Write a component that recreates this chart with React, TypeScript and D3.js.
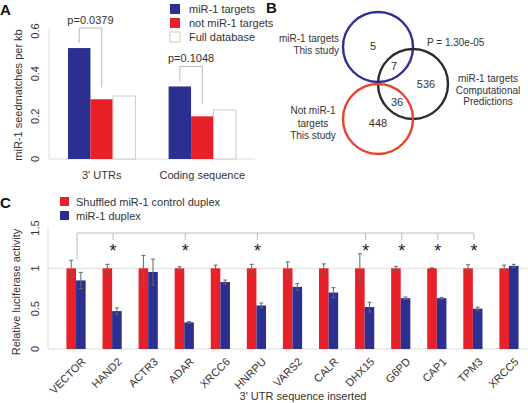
import React from "react";
import * as d3 from "d3";

// Panel A data
const groupsA = ["3' UTRs", "Coding sequence"];
const seriesA = ["miR-1 targets", "not miR-1 targets", "Full database"];
const valuesA = [
  [0.52, 0.28, 0.295],
  [0.34, 0.2, 0.23],
];
const pLabelsA = ["p=0.0379", "p=0.1048"];
const ticksA = [0, 0.2, 0.4, 0.6];

// Panel B data
const vennCounts = { onlyStudy: 5, studyPred: 7, onlyPred: 536, notPred: 36, onlyNot: 448 };
const vennP = "P = 1.30e-05";

// Panel C data
const genes = ["VECTOR", "HAND2", "ACTR3", "ADAR", "XRCC6", "HNRPU", "VARS2", "CALR", "DHX15", "G6PD", "CAP1", "TPM3", "XRCC5"];
const controlVals = [1, 1, 1, 1, 1, 1, 1, 1, 1, 1, 1, 1, 1];
const controlErr = [0.1, 0.05, 0.16, 0.02, 0.04, 0.05, 0.08, 0.055, 0.18, 0.025, 0.005, 0.045, 0.04];
const duplexVals = [0.85, 0.47, 0.955, 0.33, 0.83, 0.54, 0.77, 0.7, 0.52, 0.63, 0.63, 0.5, 1.03];
const duplexErr = [0.1, 0.04, 0.16, 0.01, 0.025, 0.03, 0.04, 0.06, 0.06, 0.015, 0.01, 0.02, 0.02];
const significant = ["HAND2", "ADAR", "HNRPU", "DHX15", "G6PD", "CAP1", "TPM3"];
const ticksC = [0, 0.5, 1, 1.5];
const seriesC = ["Shuffled miR-1 control duplex", "miR-1 duplex"];

const BLUE = "#2B2F8F";
const RED = "#E8202A";
const FONT = "Liberation Sans, Arial, sans-serif";
const TXT = "#333";

export default function App() {
  // Panel A scales
  const yA = d3.scaleLinear().domain([0, 0.6]).range([159, 31]);
  const xA = d3.scaleBand<string>().domain(groupsA).range([68, 236]).paddingInner(0.33).paddingOuter(0);
  const xAin = d3.scaleBand<string>().domain(seriesA).range([0, xA.bandwidth()]);
  const colA = [BLUE, RED, "#fff"];

  // Panel C scales
  const yC = d3.scaleLinear().domain([0, 1.5]).range([349, 228]);
  const xC = d3.scaleBand<string>().domain(genes).range([58, 527]);
  const barW = 9.6;
  const bracketY = 233;

  return (
    <svg width={528} height={403} style={{ position: "absolute", left: 0, top: 0, background: "#fff" }} fontFamily={FONT}>
      {/* Panel letters */}
      <text x={0} y={15} fontSize={15} fontWeight="bold" fill="#111">A</text>
      <text x={266} y={13} fontSize={15} fontWeight="bold" fill="#111">B</text>
      <text x={0} y={208} fontSize={15} fontWeight="bold" fill="#111">C</text>

      {/* ---------- Panel A ---------- */}
      <line x1={49} x2={49} y1={28} y2={159} stroke="#ddd" />
      <line x1={49} x2={255} y1={159} y2={159} stroke="#ddd" />
      {ticksA.map((t) => (
        <text key={t} transform={`translate(39,${yA(t)}) rotate(-90)`} textAnchor="middle" fontSize={11} fill={TXT}>
          {t === 0 ? "0" : t.toFixed(1)}
        </text>
      ))}
      <text transform={`translate(22,95) rotate(-90)`} textAnchor="middle" fontSize={11} fill={TXT}>
        miR-1 seedmatches per kb
      </text>
      {groupsA.map((g, gi) => (
        <g key={g}>
          {seriesA.map((s, si) => (
            <rect
              key={s}
              x={(xA(g) as number) + (xAin(s) as number)}
              y={yA(valuesA[gi][si])}
              width={xAin.bandwidth()}
              height={yA(0) - yA(valuesA[gi][si])}
              fill={colA[si]}
              stroke={si === 2 ? "#ccc" : "none"}
            />
          ))}
          <text x={(xA(g) as number) + xA.bandwidth() / 2} y={179} textAnchor="middle" fontSize={11} fill={TXT}>
            {g}
          </text>
        </g>
      ))}
      {groupsA.map((g, gi) => {
        const x1 = (xA(g) as number) + (xAin(seriesA[0]) as number) + xAin.bandwidth() / 2;
        const x2 = (xA(g) as number) + (xAin(seriesA[1]) as number) + xAin.bandwidth() / 2;
        const top = yA(Math.max(valuesA[gi][0], valuesA[gi][1])) - 20;
        return (
          <g key={"p" + g}>
            <path
              d={`M${x1},${yA(valuesA[gi][0]) - 5}V${top}H${x2}V${yA(valuesA[gi][1]) - 12}`}
              fill="none"
              stroke="#bbb"
            />
            <text x={(x1 + x2) / 2} y={top - 4} textAnchor="middle" fontSize={11} fill={TXT}>
              {pLabelsA[gi]}
            </text>
          </g>
        );
      })}
      {seriesA.map((s, si) => (
        <g key={"lg" + s} transform={`translate(170,${4 + si * 14})`}>
          <rect x={0} y={0} width={10} height={10} fill={colA[si]} stroke={si === 2 ? "#ccc" : "none"} />
          <text x={19} y={9} fontSize={11} fill={TXT}>{s}</text>
        </g>
      ))}

      {/* ---------- Panel B ---------- */}
      <circle cx={378} cy={47} r={35} fill="none" stroke="#2E2F95" strokeWidth={2.4} />
      <circle cx={413} cy={84} r={35} fill="none" stroke="#2b2b2b" strokeWidth={2.4} />
      <circle cx={378} cy={119} r={35} fill="none" stroke="#E8422A" strokeWidth={2.4} />
      <g fontSize={11} fill={TXT} textAnchor="middle">
        <text x={373} y={50}>{vennCounts.onlyStudy}</text>
        <text x={394} y={70}>{vennCounts.studyPred}</text>
        <text x={426} y={88}>{vennCounts.onlyPred}</text>
        <text x={397} y={106}>{vennCounts.notPred}</text>
        <text x={378} y={127}>{vennCounts.onlyNot}</text>
      </g>
      <g fontSize={10} fill={TXT}>
        <text x={339} y={42} textAnchor="end">miR-1 targets</text>
        <text x={339} y={54} textAnchor="end">This study</text>
        <text x={427} y={46}>{vennP}</text>
        <text x={488} y={82} textAnchor="middle">miR-1 targets</text>
        <text x={488} y={94} textAnchor="middle">Computational</text>
        <text x={488} y={105} textAnchor="middle">Predictions</text>
        <text x={313} y={114} textAnchor="middle">Not miR-1</text>
        <text x={313} y={127} textAnchor="middle">targets</text>
        <text x={313} y={139} textAnchor="middle">This study</text>
      </g>

      {/* ---------- Panel C ---------- */}
      <line x1={48} x2={48} y1={226} y2={349} stroke="#ddd" />
      <line x1={48} x2={527} y1={yC(0)} y2={yC(0)} stroke="#ddd" />
      <line x1={48} x2={527} y1={yC(1)} y2={yC(1)} stroke="#ddd" />
      {ticksC.map((t) => (
        <text key={t} transform={`translate(39,${yC(t)}) rotate(-90)`} textAnchor="middle" fontSize={11} fill={TXT}>
          {t}
        </text>
      ))}
      <text transform={`translate(20,292) rotate(-90)`} textAnchor="middle" fontSize={11} fill={TXT}>
        Relative luciferase activity
      </text>
      {genes.map((g, i) => {
        const c = (xC(g) as number) + xC.bandwidth() / 2;
        return (
          <g key={g}>
            <rect x={c - barW} y={yC(controlVals[i])} width={barW} height={yC(0) - yC(controlVals[i])} fill={RED} />
            <rect x={c} y={yC(duplexVals[i])} width={barW} height={yC(0) - yC(duplexVals[i])} fill={BLUE} />
            <g stroke="#666" strokeWidth={1}>
              <line x1={c - barW / 2} x2={c - barW / 2} y1={yC(controlVals[i] - controlErr[i])} y2={yC(controlVals[i] + controlErr[i])} />
              <line x1={c - barW / 2 - 2} x2={c - barW / 2 + 2} y1={yC(controlVals[i] + controlErr[i])} y2={yC(controlVals[i] + controlErr[i])} />
              <line x1={c - barW / 2 - 2} x2={c - barW / 2 + 2} y1={yC(controlVals[i] - controlErr[i])} y2={yC(controlVals[i] - controlErr[i])} />
              <line x1={c + barW / 2} x2={c + barW / 2} y1={yC(duplexVals[i] - duplexErr[i])} y2={yC(duplexVals[i] + duplexErr[i])} />
              <line x1={c + barW / 2 - 2} x2={c + barW / 2 + 2} y1={yC(duplexVals[i] + duplexErr[i])} y2={yC(duplexVals[i] + duplexErr[i])} />
              <line x1={c + barW / 2 - 2} x2={c + barW / 2 + 2} y1={yC(duplexVals[i] - duplexErr[i])} y2={yC(duplexVals[i] - duplexErr[i])} />
            </g>
            <text transform={`translate(${c + 5},${yC(0) + 8}) rotate(-45)`} textAnchor="end" dy="0.7em" fontSize={11} fill={TXT}>
              {g}
            </text>
          </g>
        );
      })}
      {(() => {
        const cx = (g: string) => (xC(g) as number) + xC.bandwidth() / 2 + 1;
        const first = cx(genes[0]);
        const last = cx(significant[significant.length - 1]);
        return (
          <g>
            <path d={`M${first},${yC(controlVals[0] + controlErr[0]) - 1}V${bracketY}H${last}`} fill="none" stroke="#bbb" />
            {significant.map((g) => (
              <g key={"s" + g}>
                <line x1={cx(g)} x2={cx(g)} y1={bracketY} y2={bracketY + 7} stroke="#bbb" />
                <text x={cx(g)} y={257} textAnchor="middle" fontSize={18} fill="#222">*</text>
              </g>
            ))}
          </g>
        );
      })()}
      <text x={303} y={400} textAnchor="middle" fontSize={11} fill={TXT}>3' UTR sequence inserted</text>
      {seriesC.map((s, si) => (
        <g key={"lc" + s} transform={`translate(60,${197 + si * 14})`}>
          <rect x={0} y={0} width={9} height={9} fill={si === 0 ? RED : BLUE} />
          <text x={16} y={9} fontSize={11} fill={TXT}>{s}</text>
        </g>
      ))}
    </svg>
  );
}
